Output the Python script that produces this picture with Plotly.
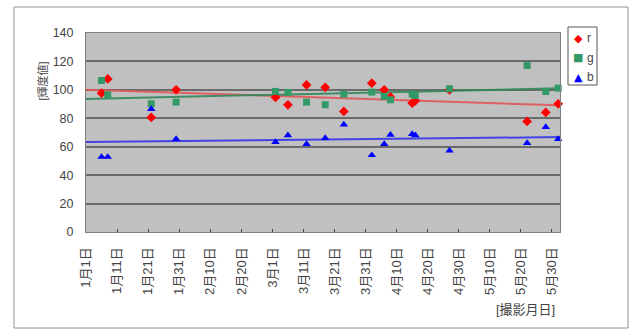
import numpy as np
import pandas as pd
import plotly.graph_objects as go

# ---- data ----
dates = ["2012-01-06", "2012-01-08", "2012-01-22", "2012-01-30", "2012-03-02", "2012-03-06",
         "2012-03-12", "2012-03-18", "2012-03-24", "2012-04-02", "2012-04-06", "2012-04-08",
         "2012-04-15", "2012-04-16", "2012-04-27", "2012-05-22", "2012-05-28", "2012-06-01"]
r_vals = [97.7, 107.7, 80.6, 100, 94.7, 89.5, 103.5, 101.7, 84.8, 104.7, 100, 95,
          90.7, 92.3, 100, 77.8, 84.1, 90.2]
g_vals = [106.6, 96.5, 90.2, 91.4, 98.9, 98.2, 91.4, 89.5, 97, 98.4, 95.4, 93,
          97, 96, 100.7, 117.1, 98.9, 101.2]
b_vals = [52.8, 52.8, 86.5, 65.4, 63.3, 68, 61.9, 66.1, 75.6, 54, 61.9, 68.4,
          68.9, 68, 57.2, 62.6, 73.8, 65.4]
tick_labels = ["1月1日", "1月11日", "1月21日", "1月31日", "2月10日", "2月20日", "3月1日",
               "3月11日", "3月21日", "3月31日", "4月10日", "4月20日", "4月30日",
               "5月10日", "5月20日", "5月30日"]
series_names = ["r", "g", "b"]
tick_dates = pd.date_range("2012-01-01", periods=len(tick_labels), freq="10D")
x_range = [pd.Timestamp("2012-01-01"), pd.Timestamp("2012-06-01 14:00")]

styles = {"r": ("#ff0000", "diamond", 7.5, "rgba(225,85,85,0.9)", "◆"),
          "g": ("#339966", "square", 7, "rgba(50,135,90,0.9)", "■"),
          "b": ("#0000ff", "triangle-up", 7.5, "rgba(45,45,235,0.85)", "▲")}
values = {"r": r_vals, "g": g_vals, "b": b_vals}

dt = pd.to_datetime(dates)
days = np.array([(d - x_range[0]).days for d in dt], dtype=float)
end_days = np.array([0.0, (x_range[1] - x_range[0]).total_seconds() / 86400.0])
end_dates = [x_range[0] + pd.Timedelta(days=float(d)) for d in end_days]

fig = go.Figure()
for name in series_names:
    col, sym, sz, lcol, _ = styles[name]
    k, c = np.polyfit(days, np.array(values[name]), 1)
    fig.add_trace(go.Scatter(x=end_dates, y=k * end_days + c, mode="lines",
                             line=dict(color=lcol, width=2), showlegend=False,
                             hoverinfo="skip"))
for name in series_names:
    col, sym, sz, lcol, _ = styles[name]
    fig.add_trace(go.Scatter(x=dt, y=values[name], mode="markers", name=name,
                             marker=dict(color=col, symbol=sym, size=sz, line=dict(width=0)),
                             cliponaxis=False, showlegend=False))

W, H = 641, 331
L, R, T, B = 86, 560, 33, 232
pw, ph = R - L, B - T

def px(x):
    return (x - L) / pw

def py(y):
    return (B - y) / ph

font = "Liberation Sans, Arial, Noto Sans CJK JP, sans-serif"
txt = "#444444"

# hand-drawn compact legend (box + symbol + label)
shapes = [dict(type="rect", xref="paper", yref="paper",
               x0=px(14), x1=px(628), y0=py(328), y1=py(7),
               line=dict(color="#909090", width=1), fillcolor="rgba(0,0,0,0)", layer="below"),
          dict(type="rect", xref="paper", yref="paper",
               x0=px(568), x1=px(597), y0=py(85), y1=py(27),
               line=dict(color="#555555", width=1), fillcolor="white")]
annotations = [
    dict(text="[輝度値]", xref="paper", yref="paper", x=px(34), y=py(60),
         textangle=-90, showarrow=False, font=dict(size=11, color=txt)),
    dict(text="[撮影月日]", xref="paper", yref="paper", x=px(557), y=py(309),
         xanchor="right", yanchor="middle", showarrow=False,
         font=dict(size=13, color=txt)),
]
for i, name in enumerate(series_names):
    col, sym, sz, lcol, glyph = styles[name]
    yy = 38 + i * 19.5
    annotations.append(dict(text=glyph, xref="paper", yref="paper", x=px(578), y=py(yy),
                            xanchor="center", yanchor="middle", showarrow=False,
                            font=dict(size=11, color=col, family="DejaVu Sans")))
    annotations.append(dict(text=name, xref="paper", yref="paper", x=px(585), y=py(yy),
                            xanchor="left", yanchor="middle", showarrow=False,
                            font=dict(size=12, color=txt)))

fig.update_layout(
    width=W, height=H,
    margin=dict(l=L, r=W - R, t=T, b=H - B, autoexpand=False),
    paper_bgcolor="white", plot_bgcolor="#c0c0c0",
    font=dict(family=font, size=12, color=txt),
    xaxis=dict(type="date", range=x_range, tickvals=tick_dates, ticktext=tick_labels,
               tickangle=-90, showgrid=False, showline=True, linecolor="#808080",
               linewidth=1, mirror=True, ticks="inside", ticklen=3, tickcolor="#444",
               ticklabelstandoff=9, zeroline=False, tickfont=dict(size=13, color=txt),
               automargin=False),
    yaxis=dict(range=[0, 140], dtick=20, showgrid=True, gridcolor="#6a6a6a", gridwidth=1.6,
               showline=True, linecolor="#808080", linewidth=1, mirror=True,
               zeroline=False, ticks="", ticklabelstandoff=9,
               tickfont=dict(size=12.5, color=txt), automargin=False),
    showlegend=False,
    shapes=shapes,
    annotations=annotations,
)

fig.write_html("out.html", config={"displayModeBar": False},
               post_script="document.body.style.margin='0';document.body.style.padding='0';")
